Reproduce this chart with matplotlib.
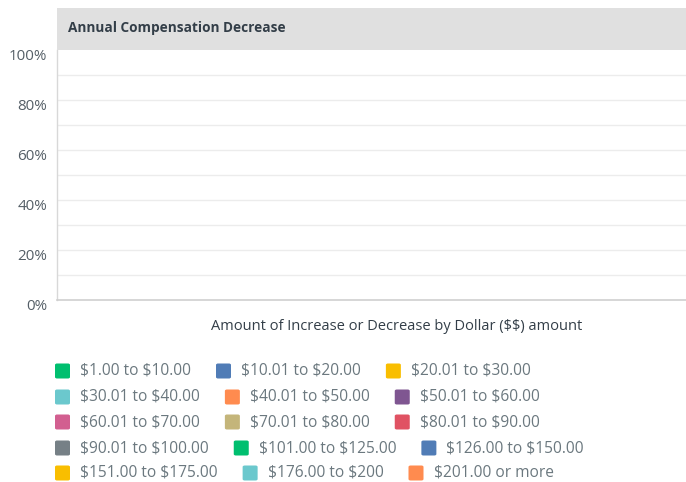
import matplotlib
matplotlib.use("Agg")
import matplotlib.pyplot as plt
from matplotlib.patches import FancyBboxPatch, Rectangle
from matplotlib import transforms as mtransforms

# ---- data ----
categories = [
    "$1.00 to $10.00", "$10.01 to $20.00", "$20.01 to $30.00",
    "$30.01 to $40.00", "$40.01 to $50.00", "$50.01 to $60.00",
    "$60.01 to $70.00", "$70.01 to $80.00", "$80.01 to $90.00",
    "$90.01 to $100.00", "$101.00 to $125.00", "$126.00 to $150.00",
    "$151.00 to $175.00", "$176.00 to $200", "$201.00 or more",
]
colors = [
    "#00bf6f", "#507cb6", "#f9be00",
    "#6bc8cd", "#ff8b4f", "#7f5691",
    "#d25f90", "#c4b57a", "#e05263",
    "#768086", "#00bf6f", "#507cb6",
    "#f9be00", "#6bc8cd", "#ff8b4f",
]
values = [0, 0, 0, 0, 0, 0, 0, 0, 0, 0, 0, 0, 0, 0, 0]  # no responses
y_labels = ["0%", "20%", "40%", "60%", "80%", "100%"]
y_ticks = [0, 20, 40, 60, 80, 100]
title = "Annual Compensation Decrease"
x_label = "Amount of Increase or Decrease by Dollar ($$) amount"

W, H = 686, 482
plt.rcParams["font.family"] = ["Open Sans", "DejaVu Sans"]
plt.rcParams["text.parse_math"] = False
fig = plt.figure(figsize=(W / 100, H / 100), dpi=100)


def fx(px):
    return px / W


def fy(py):
    return 1 - py / H


ax = fig.add_axes([fx(57), fy(300), fx(686) - fx(57), fy(50) - fy(300)])
n = len(categories)
bw = 0.8 / n
for i, (v, c) in enumerate(zip(values, colors)):
    ax.bar(-0.4 + bw * (i + 0.5), v, width=bw, color=c, linewidth=0)
ax.set_xlim(-0.5, 0.5)
ax.set_ylim(0, 100)
ax.set_xticks([])
ax.set_yticks(list(range(10, 100, 10)))
ax.tick_params(axis="y", length=0, labelleft=False)
ax.grid(axis="y", color="#ececec", linewidth=1)
ax.set_axisbelow(True)
for s in ["top", "right"]:
    ax.spines[s].set_visible(False)
ax.spines["left"].set_color("#d8d8d8")
ax.spines["bottom"].set_color("#cfcfcf")
ax.spines["left"].set_linewidth(1)
ax.spines["bottom"].set_linewidth(1.2)

# y labels sit a little below their gridline
off = mtransforms.ScaledTranslation(0, -7 / 100, fig.dpi_scale_trans)
tr = mtransforms.blended_transform_factory(fig.transFigure, ax.transData) + off
for t, lab in zip(y_ticks, y_labels):
    ax.text(fx(47), t, lab, transform=tr, ha="right", va="center",
            fontsize=10.9, color="#545e66")

# title bar
fig.patches.append(Rectangle((fx(57), fy(50)), fx(686) - fx(57), fy(8) - fy(50),
                             transform=fig.transFigure, color="#e0e0e0", lw=0))
fig.text(fx(68), fy(28), title, fontsize=9.8, fontweight="bold",
         color="#333e48", va="center", ha="left")

fig.text(fx(397), fy(326), x_label, fontsize=10.5, color="#333e48",
         ha="center", va="center")

# legend (flow layout, 3 per row)
fig.canvas.draw()
renderer = fig.canvas.get_renderer()
row_y = [371, 397, 422, 448, 473]
sw = 15
for r, yy in enumerate(row_y):
    xx = 55
    for k in range(3):
        i = r * 3 + k
        if i >= n:
            break
        fig.patches.append(FancyBboxPatch(
            (fx(xx), fy(yy + sw / 2)), fx(sw), fy(0) - fy(sw),
            boxstyle="round,pad=0,rounding_size=0.003",
            transform=fig.transFigure, facecolor=colors[i], edgecolor="none"))
        t = fig.text(fx(xx + 25), fy(yy), categories[i], fontsize=11.2,
                     color="#6b787f", ha="left", va="center")
        ext = t.get_window_extent(renderer)
        xx = ext.x1 + 25

fig.savefig("out.png", dpi=100, facecolor="white")
